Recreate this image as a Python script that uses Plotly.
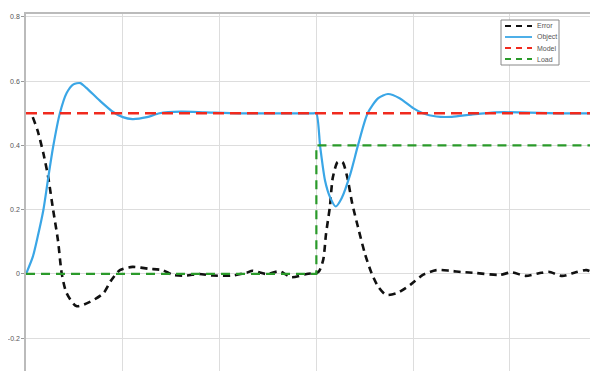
import plotly.graph_objects as go

# Object response
obj_x = [0, 0.07, 0.12, 0.18, 0.23, 0.28, 0.35, 0.42, 0.49, 0.56, 0.62, 0.76, 0.9, 1.0, 1.1, 1.25, 1.38,
         1.6, 1.85, 2.2, 2.6, 2.97, 3.0,
         3.04, 3.09, 3.14, 3.2, 3.26, 3.35, 3.43, 3.53, 3.64, 3.74, 3.86, 4.0, 4.1, 4.24, 4.4, 4.6,
         4.85, 5.1, 5.5, 5.91]
obj_y = [0, 0.053, 0.115, 0.2, 0.30, 0.395, 0.50, 0.563, 0.59, 0.594, 0.58, 0.54, 0.504, 0.488, 0.482, 0.488, 0.50,
         0.505, 0.503, 0.5, 0.5, 0.5, 0.5,
         0.395, 0.29, 0.24, 0.21, 0.235, 0.31, 0.40, 0.50, 0.547, 0.56, 0.547, 0.516, 0.50, 0.49, 0.489, 0.496,
         0.503, 0.503, 0.5, 0.5]

# Error signal
err_x = [0.07, 0.12, 0.18, 0.23, 0.28, 0.33, 0.37, 0.42, 0.52, 0.66, 0.8, 0.88, 0.97, 1.1, 1.27, 1.41, 1.52,
         1.65, 1.79, 1.93, 2.13, 2.28, 2.34, 2.48, 2.62, 2.74, 2.9, 3.02,
         3.07, 3.1, 3.14, 3.17, 3.22, 3.27, 3.32, 3.37, 3.43, 3.5, 3.57, 3.64, 3.72, 3.83, 3.97,
         4.1, 4.24, 4.38, 4.5, 4.65, 4.89, 5.02, 5.16, 5.3, 5.4, 5.54, 5.68, 5.79, 5.91]
err_y = [0.488, 0.446, 0.375, 0.30, 0.2, 0.105, 0.0, -0.06, -0.10, -0.087, -0.06, -0.02, 0.012, 0.022, 0.016, 0.012, -0.003,
         -0.005, 0.0, -0.005, -0.005, 0.004, 0.01, 0.0, 0.008, -0.01, 0.0, 0.006,
         0.043, 0.125, 0.21, 0.30, 0.348, 0.348, 0.30, 0.22, 0.146, 0.065, 0.003, -0.04, -0.065, -0.06, -0.034,
         -0.003, 0.012, 0.01, 0.006, 0.003, -0.003, 0.005, -0.006, 0.002, 0.007, -0.006, 0.005, 0.012, -0.003]

# Model reference
model_x = [0, 5.91]
model_y = [0.5, 0.5]

# Load disturbance
load_x = [0, 3.0, 3.0, 5.91]
load_y = [0, 0, 0.4, 0.4]

ytick_vals = [-0.2, 0, 0.2, 0.4, 0.6, 0.8]
ytick_text = ["-0.2", "0", "0.2", "0.4", "0.6", "0.8"]

series_names = ["Error", "Object", "Model", "Load"]
series_colors = ["#111111", "#3AA6E6", "#F02A1E", "#2A9A2A"]
series_dash = ["7px,5px", "solid", "11px,6px", "9px,6px"]
series_width = [2.6, 2.2, 2.6, 2.2]

# page body has an 8px margin; size the figure so it fits the window
OFF = 8
W, H = 598 - OFF, 371 - OFF
ML, MR, MT, MB = 26 - OFF, 0, 14 - OFF, 0

fig = go.Figure()
fig.add_trace(go.Scatter(x=err_x, y=err_y, mode="lines", name=series_names[0],
                         line=dict(color=series_colors[0], width=series_width[0], dash=series_dash[0],
                                   shape="spline", smoothing=0.7)))
fig.add_trace(go.Scatter(x=obj_x, y=obj_y, mode="lines", name=series_names[1],
                         line=dict(color=series_colors[1], width=series_width[1], shape="spline", smoothing=0.7)))
fig.add_trace(go.Scatter(x=model_x, y=model_y, mode="lines", name=series_names[2],
                         line=dict(color=series_colors[2], width=series_width[2], dash=series_dash[2])))
fig.add_trace(go.Scatter(x=load_x, y=load_y, mode="lines", name=series_names[3],
                         line=dict(color=series_colors[3], width=series_width[3], dash=series_dash[3])))

# Compact MATLAB-style legend drawn in paper coordinates (positions given in page pixels)
pw, ph = W - ML - MR, H - MT - MB
def px_x(p):
    return (p - OFF - ML) / pw
def px_y(p):
    return 1 - (p - OFF - MT) / ph

lg_left, lg_right, lg_top, lg_bot = 501, 559, 20, 65
shapes = [dict(type="rect", xref="paper", yref="paper",
               x0=px_x(lg_left), x1=px_x(lg_right), y0=px_y(lg_bot), y1=px_y(lg_top),
               line=dict(color="#888888", width=1), fillcolor="white", layer="above")]
annotations = []
for i, nm in enumerate(series_names):
    yc = 26 + i * 11
    shapes.append(dict(type="line", xref="paper", yref="paper",
                       x0=px_x(505), x1=px_x(532), y0=px_y(yc), y1=px_y(yc),
                       line=dict(color=series_colors[i], width=1.8,
                                 dash=("6px,5px" if series_dash[i] != "solid" else "solid")),
                       layer="above"))
    annotations.append(dict(xref="paper", yref="paper", x=px_x(535), y=px_y(yc),
                            xanchor="left", yanchor="middle", text=nm, showarrow=False,
                            font=dict(size=7, color="#555555")))

fig.update_layout(
    width=W, height=H,
    margin=dict(l=ML, r=MR, t=MT, b=MB),
    paper_bgcolor="white", plot_bgcolor="white",
    font=dict(family="Liberation Sans, Arial, sans-serif", size=7, color="#555555"),
    showlegend=False,
    shapes=shapes, annotations=annotations,
)
fig.update_xaxes(range=[0, 5.91], dtick=1, tick0=0, showticklabels=False, automargin=False,
                 showgrid=True, gridcolor="#DDDDDD", gridwidth=1, zeroline=False,
                 showline=True, linecolor="#BBBBBB", mirror=True, linewidth=1.5)
fig.update_yaxes(range=[-0.302, 0.809], tickvals=ytick_vals, ticktext=ytick_text, automargin=False,
                 showgrid=True, gridcolor="#DDDDDD", gridwidth=1, zeroline=False,
                 showline=True, linecolor="#BBBBBB", linewidth=1.5,
                 ticks="outside", ticklen=3, tickcolor="#999999",
                 tickfont=dict(size=7, color="#555555"))

fig.write_html("out.html")
